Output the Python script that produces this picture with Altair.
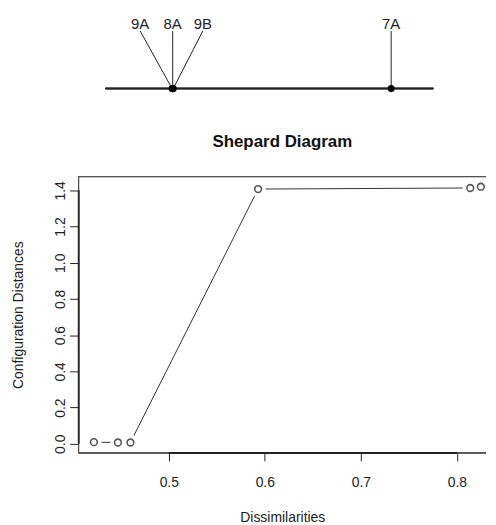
import altair as alt
import pandas as pd

# ---- data ----
config_labels = ["9A", "8A", "9B", "7A"]
config_coord = [-0.356, -0.352, -0.349, 1.057]
label_pos = [-0.562, -0.3525, -0.158, 1.057]
axis_extent = [-0.786, 1.329]

dissim = [0.422, 0.447, 0.460, 0.593, 0.814, 0.825]
config_dist = [0.009, 0.007, 0.007, 1.407, 1.413, 1.420]

x_ticks = [0.5, 0.6, 0.7, 0.8]
y_ticks = [0.0, 0.2, 0.4, 0.6, 0.8, 1.0, 1.2, 1.4]

FONT = "Liberation Sans"
W = 410
H_TOP = 90
H = 278
LINE_Y = 78.5

top_df = pd.DataFrame({"label": config_labels, "coord": config_coord, "lpos": label_pos})
sh_df = pd.DataFrame({"d": dissim, "c": config_dist})

# ---- top: 1D configuration ----
tx = alt.Scale(domain=[-0.9595, 1.6687], nice=False, zero=False)

top_base = alt.Chart(top_df)
axis_line = alt.Chart(top_df).mark_rule(color="#222", strokeWidth=1.5).encode(
    x=alt.datum(axis_extent[0], scale=tx, axis=None),
    x2=alt.datum(axis_extent[1]),
    y=alt.value(LINE_Y),
)
connectors = top_base.mark_rule(color="#222", strokeWidth=1).encode(
    x=alt.X("lpos:Q", scale=tx, axis=None),
    x2="coord:Q",
    y=alt.value(20.5),
    y2=alt.value(LINE_Y),
)
labels = top_base.mark_text(font=FONT, fontSize=15, baseline="middle", color="#222").encode(
    x=alt.X("lpos:Q", scale=tx, axis=None),
    y=alt.value(14),
    text="label:N",
)
dots = top_base.mark_circle(color="#000", size=50, opacity=1).encode(
    x=alt.X("coord:Q", scale=tx, axis=None),
    y=alt.value(LINE_Y),
)
top = alt.layer(axis_line, connectors, dots, labels).properties(
    width=W, height=H_TOP, view=alt.ViewBackground(stroke="transparent")
)

# ---- bottom: Shepard diagram ----
xs = alt.Scale(domain=[0.406, 0.8304], nice=False, zero=False)
ys = alt.Scale(domain=[-0.05, 1.476], nice=False, zero=False)

xax = alt.Axis(values=x_ticks, format=".1f", tickSize=8, domain=False, grid=False,
               labelFont=FONT, labelFontSize=14, labelPadding=15, labelColor="#222",
               labelOverlap=False,
               tickColor="#222", title="Dissimilarities", titleFont=FONT, titleFontSize=14,
               titleFontWeight="normal", titlePadding=21, titleColor="#222")
yax = alt.Axis(values=y_ticks, format=".1f", tickSize=9, domain=False, grid=False,
               labelFont=FONT, labelFontSize=14, labelPadding=2, labelAngle=270,
               labelAlign="center", labelBaseline="bottom", labelColor="#222",
               labelOverlap=False,
               tickColor="#222", title="Configuration Distances", titleFont=FONT,
               titleFontSize=14, titleFontWeight="normal", titlePadding=28, titleColor="#222")

sb = alt.Chart(sh_df)
line = sb.mark_line(color="#333", strokeWidth=1).encode(
    x=alt.X("d:Q", scale=xs, axis=xax, title="Dissimilarities"),
    y=alt.Y("c:Q", scale=ys, axis=yax, title="Configuration Distances"),
)
mask = sb.mark_circle(color="white", size=240, opacity=1, clip=True).encode(
    x=alt.X("d:Q", scale=xs, axis=xax, title="Dissimilarities"),
    y=alt.Y("c:Q", scale=ys, axis=yax, title="Configuration Distances"),
)
pts = sb.mark_point(shape="circle", filled=False, color="#111", size=46, strokeWidth=1.6).encode(
    x=alt.X("d:Q", scale=xs, axis=xax, title="Dissimilarities"),
    y=alt.Y("c:Q", scale=ys, axis=yax, title="Configuration Distances"),
)
box_style = dict(color="#555", strokeWidth=1)
box_top = alt.Chart(sh_df).mark_rule(**box_style).encode(
    x=alt.value(0), x2=alt.value(W), y=alt.value(0))
box_bottom = alt.Chart(sh_df).mark_rule(**box_style).encode(
    x=alt.value(0), x2=alt.value(W), y=alt.value(H))
box_left = alt.Chart(sh_df).mark_rule(**box_style).encode(
    x=alt.value(0), y=alt.value(0), y2=alt.value(H))
xseg = alt.Chart(sh_df).mark_rule(color="#222", strokeWidth=1.2).encode(
    x=alt.datum(min(x_ticks), scale=xs, axis=xax, title="Dissimilarities"),
    x2=alt.datum(max(x_ticks)), y=alt.value(H)
)
yseg = alt.Chart(sh_df).mark_rule(color="#222", strokeWidth=1.2).encode(
    y=alt.datum(min(y_ticks), scale=ys, axis=yax, title="Configuration Distances"),
    y2=alt.datum(max(y_ticks)), x=alt.value(0)
)

bottom = alt.layer(line, mask, pts, box_top, box_bottom, box_left, xseg, yseg).properties(
    width=W, height=H,
    title=alt.TitleParams("Shepard Diagram", font=FONT, fontSize=17, fontWeight="bold",
                          anchor="middle", baseline="alphabetic", frame="group",
                          offset=12, color="#111"),
    view=alt.ViewBackground(stroke="transparent"),
)

chart = alt.vconcat(top, bottom, spacing=32).properties(
    padding={"left": 3, "top": 0, "right": 0, "bottom": 0}
)

chart.save("out.html", embed_options={"renderer": "svg", "actions": False})
